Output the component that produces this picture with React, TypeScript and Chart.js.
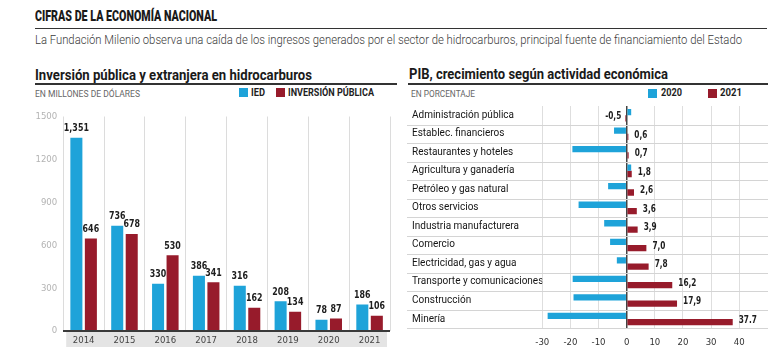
import React, { useEffect, useLayoutEffect, useRef } from 'react';
import { Chart, registerables } from 'chart.js';
Chart.register(...registerables);

// ---- Left chart data ----
const years = ['2014', '2015', '2016', '2017', '2018', '2019', '2020', '2021'];
const ied = [1351, 736, 330, 386, 316, 208, 78, 186];
const inversionPublica = [646, 678, 530, 341, 162, 134, 87, 106];
const investTicks = [0, 300, 600, 900, 1200, 1500];

// ---- Right chart data ----
const activities = [
  'Administración pública',
  'Establec. financieros',
  'Restaurantes y hoteles',
  'Agricultura y ganadería',
  'Petróleo y gas natural',
  'Otros servicios',
  'Industria manufacturera',
  'Comercio',
  'Electricidad, gas y agua',
  'Transporte y comunicaciones',
  'Construcción',
  'Minería',
];
const growth2020 = [1.6, -4.5, -19.3, 1.6, -6.6, -17.1, -8.0, -5.9, -3.5, -19.2, -18.9, -28.1];
const growth2021 = [-0.5, 0.6, 0.7, 1.8, 2.6, 3.6, 3.9, 7.0, 7.8, 16.2, 17.9, 37.7];
const growth2021Text = ['-0,5', '0,6', '0,7', '1,8', '2,6', '3,6', '3,9', '7,0', '7,8', '16,2', '17,9', '37.7'];
const growthTicks = [-30, -20, -10, 0, 10, 20, 30, 40];

const BLUE = '#1ea3d9';
const RED = '#971b2b';
const NARROW = '"Liberation Sans Narrow", "DejaVu Sans Condensed", Roboto, sans-serif';
const SANS = 'Roboto, "Noto Sans", sans-serif';

type FitProps = {
  x: number; base: number; w: number; size: number; weight?: number; color?: string; family?: string; children: React.ReactNode;
};
function FitText({ x, base, w, size, weight = 400, color = '#222', family = SANS, children }: FitProps) {
  const ref = useRef<HTMLSpanElement>(null);
  useLayoutEffect(() => {
    const el = ref.current;
    if (!el) return;
    el.style.transform = 'none';
    const nat = el.getBoundingClientRect().width;
    if (nat > 0) el.style.transform = `scaleX(${w / nat})`;
  }, [w, children]);
  return (
    <span
      ref={ref}
      style={{
        position: 'absolute', left: x, top: base - 0.84 * size, fontSize: size, fontWeight: weight, color,
        fontFamily: family, whiteSpace: 'nowrap', lineHeight: 1, transformOrigin: '0 0', display: 'inline-block',
      }}
    >
      {children}
    </span>
  );
}

function Rule({ x1, x2, y, h = 1.5, color = '#333' }: { x1: number; x2: number; y: number; h?: number; color?: string }) {
  return <div style={{ position: 'absolute', left: x1, top: y - h / 2, width: x2 - x1, height: h, background: color }} />;
}

function Swatch({ x, y, color }: { x: number; y: number; color: string }) {
  return <div style={{ position: 'absolute', left: x, top: y, width: 9, height: 9, background: color }} />;
}

// draws horizontally condensed text
function squeezeText(ctx: CanvasRenderingContext2D, text: string, x: number, y: number, sx: number) {
  ctx.save();
  ctx.translate(x, y);
  ctx.scale(sx, 1);
  ctx.fillText(text, 0, 0);
  ctx.restore();
}

function InvestmentChart() {
  const ref = useRef<HTMLCanvasElement>(null);
  useEffect(() => {
    const band = {
      id: 'band',
      beforeDraw(chart: any) {
        const { ctx, chartArea: a } = chart;
        ctx.save();
        ctx.fillStyle = '#e4e4e4';
        ctx.fillRect(a.left + 3, a.bottom + 1, a.right - a.left - 6, 15);
        ctx.restore();
      },
    };
    const valueLabels = {
      id: 'valueLabels',
      afterDatasetsDraw(chart: any) {
        const { ctx } = chart;
        ctx.save();
        ctx.font = `bold 11px ${NARROW}`;
        ctx.fillStyle = '#1e1e1e';
        ctx.textAlign = 'center';
        ctx.textBaseline = 'bottom';
        chart.data.datasets.forEach((ds: any, di: number) => {
          const meta = chart.getDatasetMeta(di);
          meta.data.forEach((el: any, i: number) => {
            const v = ds.data[i] as number;
            squeezeText(ctx, v.toLocaleString('en-US'), el.x, el.y - 4, 0.8);
          });
        });
        ctx.restore();
      },
    };
    const chart = new Chart(ref.current!, {
      type: 'bar',
      data: {
        labels: years,
        datasets: [
          { label: 'IED', data: ied, backgroundColor: BLUE, categoryPercentage: 0.71, barPercentage: 0.83 },
          { label: 'INVERSIÓN PÚBLICA', data: inversionPublica, backgroundColor: RED, categoryPercentage: 0.71, barPercentage: 0.83 },
        ],
      },
      options: {
        animation: false,
        responsive: false,
        layout: { padding: { top: 16.5, left: 0, right: 5, bottom: 9 } },
        plugins: { legend: { display: false }, tooltip: { enabled: false } },
        scales: {
          x: {
            grid: { color: '#dcdcdc', drawTicks: false, offset: true },
            border: { display: false },
            ticks: { color: '#444', font: { family: NARROW, size: 9.5 }, padding: 4 },
            afterFit(s: any) { s.height = 20; },
          },
          y: {
            min: 0,
            max: 1500,
            afterBuildTicks(s: any) { s.ticks = investTicks.map((v) => ({ value: v })); },
            ticks: { color: '#b3b3b3', font: { family: NARROW, size: 9.5 }, padding: 6, callback: (v: any) => String(v) },
            grid: {
              drawTicks: false,
              color: (c: any) => (c.tick && c.tick.value === 0 ? '#3a3a3a' : 'rgba(0,0,0,0)'),
              lineWidth: (c: any) => (c.tick && c.tick.value === 0 ? 2 : 0),
            },
            border: { display: false },
            afterFit(s: any) { s.width = 63.2; },
          },
        },
      },
      plugins: [band, valueLabels],
    });
    return () => chart.destroy();
  }, []);
  return <canvas ref={ref} width={395} height={260} style={{ position: 'absolute', left: 0, top: 100 }} />;
}

function GrowthChart() {
  const ref = useRef<HTMLCanvasElement>(null);
  useEffect(() => {
    const rows = {
      id: 'rows',
      beforeDatasetsDraw(chart: any) {
        const { ctx } = chart;
        const y = chart.scales.y;
        const n = activities.length;
        const half = (y.getPixelForValue(1) - y.getPixelForValue(0)) / 2;
        ctx.save();
        ctx.strokeStyle = '#d4d4d4';
        ctx.lineWidth = 1;
        for (let i = 0; i < n; i++) {
          const py = Math.round(y.getPixelForValue(i) + half) + 0.5;
          ctx.beginPath();
          ctx.moveTo(7, py);
          ctx.lineTo(368, py);
          ctx.stroke();
        }
        ctx.restore();
      },
    };
    const valueLabels = {
      id: 'valueLabels',
      afterDatasetsDraw(chart: any) {
        const { ctx } = chart;
        const meta = chart.getDatasetMeta(1);
        ctx.save();
        ctx.font = `bold 10.5px ${NARROW}`;
        ctx.fillStyle = '#1e1e1e';
        ctx.textBaseline = 'middle';
        meta.data.forEach((el: any, i: number) => {
          const v = growth2021[i];
          if (v >= 0) {
            ctx.textAlign = 'left';
            squeezeText(ctx, growth2021Text[i], el.x + 6, el.y - 2, 0.78);
          } else {
            ctx.textAlign = 'right';
            squeezeText(ctx, growth2021Text[i], el.x - 4, el.y - 2, 0.78);
          }
        });
        ctx.restore();
      },
    };
    const chart = new Chart(ref.current!, {
      type: 'bar',
      data: {
        labels: activities,
        datasets: [
          { label: '2020', data: growth2020, backgroundColor: BLUE, categoryPercentage: 0.68, barPercentage: 1.0 },
          { label: '2021', data: growth2021, backgroundColor: RED, categoryPercentage: 0.68, barPercentage: 1.0 },
        ],
      },
      options: {
        indexAxis: 'y',
        animation: false,
        responsive: false,
        layout: { padding: { top: 11, left: 12, right: 41.8, bottom: 10.7 } },
        plugins: { legend: { display: false }, tooltip: { enabled: false } },
        scales: {
          x: {
            min: -30,
            max: 40,
            afterBuildTicks(s: any) { s.ticks = growthTicks.map((v) => ({ value: v })); },
            ticks: { color: '#333', font: { family: NARROW, size: 9.5 }, padding: 9, callback: (v: any) => String(v) },
            grid: {
              drawTicks: false,
              color: (c: any) => (c.tick && c.tick.value === 0 ? '#444' : '#dedede'),
              lineWidth: (c: any) => (c.tick && c.tick.value === 0 ? 1.5 : 1),
            },
            border: { display: false },
            afterFit(s: any) { s.height = 22; },
          },
          y: {
            grid: { display: false },
            border: { display: false },
            ticks: { color: '#151515', font: { family: SANS, size: 10 }, crossAlign: 'far', padding: 0 },
            afterFit(s: any) { s.width = 130.3; },
          },
        },
      },
      plugins: [rows, valueLabels],
    });
    return () => chart.destroy();
  }, []);
  return <canvas ref={ref} width={381} height={266} style={{ position: 'absolute', left: 400, top: 95 }} />;
}

export default function App() {
  return (
    <div style={{ position: 'fixed', left: 0, top: 0, width: 781, height: 361, background: '#fff', overflow: 'hidden' }}>
      <FitText x={35} base={22} w={182} size={15.5} weight={900} color="#1a1a1a">CIFRAS DE LA ECONOMÍA NACIONAL</FitText>
      <Rule x1={35} x2={767} y={28.3} />
      <FitText x={35} base={44} w={707} size={12.5} weight={300} color="#3a3a3a">
        La Fundación Milenio observa una caída de los ingresos generados por el sector de hidrocarburos, principal fuente de financiamiento del Estado
      </FitText>

      <FitText x={35} base={79.3} w={277} size={14} weight={700} color="#1a1a1a">Inversión pública y extranjera en hidrocarburos</FitText>
      <Rule x1={35} x2={397} y={84} />
      <FitText x={35} base={96.7} w={105} size={8.5} color="#666">EN MILLONES DE DÓLARES</FitText>
      <Swatch x={239} y={88} color={BLUE} />
      <FitText x={251} base={96.7} w={14} size={10} weight={700} color="#1e1e1e">IED</FitText>
      <Swatch x={276} y={88} color={RED} />
      <FitText x={288} base={96.7} w={86} size={10} weight={700} color="#1e1e1e">INVERSIÓN PÚBLICA</FitText>

      <FitText x={409} base={79} w={259} size={14} weight={700} color="#1a1a1a">PIB, crecimiento según actividad económica</FitText>
      <Rule x1={408} x2={768} y={84} />
      <FitText x={411} base={96.7} w={64} size={8.5} color="#666">EN PORCENTAJE</FitText>
      <Swatch x={648} y={88.5} color={BLUE} />
      <FitText x={661} base={96.7} w={21} size={10} weight={700} color="#1e1e1e">2020</FitText>
      <Swatch x={708} y={88.5} color={RED} />
      <FitText x={720} base={96.7} w={22} size={10} weight={700} color="#1e1e1e">2021</FitText>

      <InvestmentChart />
      <GrowthChart />
    </div>
  );
}
